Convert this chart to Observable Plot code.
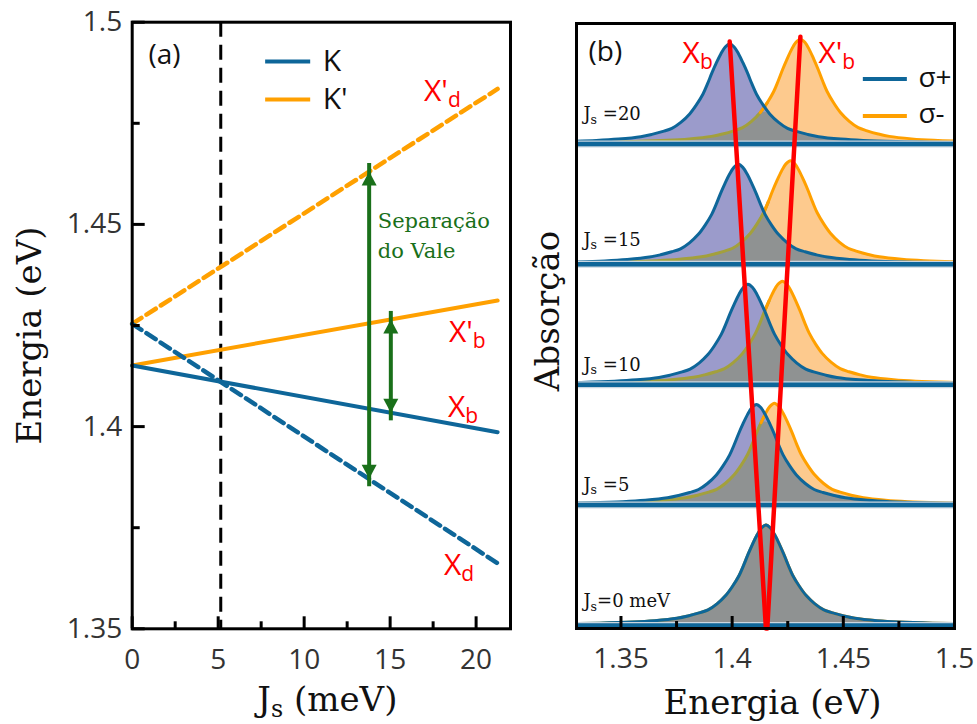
<!DOCTYPE html>
<html><head><meta charset="utf-8">
<script src="https://cdn.jsdelivr.net/npm/d3@7"></script>
<script src="https://cdn.jsdelivr.net/npm/@observablehq/plot@0.6"></script>
<style>
html,body{margin:0;padding:0;background:#fff;}
#wrap{position:relative;width:977px;height:724px;overflow:hidden;background:#fff;}
#wrap svg{position:absolute;top:0;}
</style></head><body><div id="wrap"></div>
<script>
// ---------- Panel (a) data ----------
const js = [0, 21.25];                 // J_s (meV) line ends
const xb  = [1.4151, 1.3986];          // K  solid  (X_b)
const xpb = [1.4151, 1.4312];          // K' solid  (X'_b)
const xd  = [1.4254, 1.3662];          // K  dashed (X_d)
const xpd = [1.4254, 1.4835];          // K' dashed (X'_d)
const jsCross = [5.15];
const arrowJs = [13.78, 15.04];
const arrowTop = [1.4631, 1.4265];
const arrowBottom = [1.3871, 1.4034];
const aTicksMajorX = [0, 5, 10, 15, 20];
const aTicksMinorX = [2.5, 7.5, 12.5, 17.5];
const aTicksMajorY = [1.35, 1.4, 1.45, 1.5];
const aTicksMinorY = [1.375, 1.425, 1.475];

// ---------- Panel (b) data ----------
const jsValues = [0, 5, 10, 15, 20];
const jsLabels = ["J_s=0 meV", "J_s =5", "J_s =10", "J_s =15", "J_s =20"];
const jsLabelY = [0.152, 1.120, 2.116, 3.154, 4.199];
const peakPlus  = [1.4152, 1.4109, 1.4071, 1.4028, 1.3989];   // sigma+ (X_b)
const peakMinus = [1.4152, 1.4190, 1.4226, 1.4262, 1.4307];   // sigma- (X'_b)
const heightPlus  = [0.835, 0.835, 0.835, 0.83, 0.83];
const heightMinus = [0.835, 0.845, 0.86, 0.86, 0.87];
// line shape read from the J_s=0 peak: offset from centre (eV) -> fraction of peak height
const shapeOffset = [0, 0.002, 0.004, 0.006, 0.008, 0.010, 0.012, 0.015, 0.018, 0.022, 0.026, 0.030, 0.035, 0.040, 0.050, 0.060, 0.075, 0.090, 0.105, 0.120];
const shapeValue  = [1, 0.97, 0.90, 0.81, 0.71, 0.60, 0.50, 0.39, 0.30, 0.215, 0.155, 0.125, 0.095, 0.072, 0.048, 0.034, 0.023, 0.017, 0.012, 0.009];
const bTicksMajorX = [1.35, 1.4, 1.45, 1.5];
const bTicksMinorX = [1.375, 1.425, 1.475];

// ---------- styles ----------
const blue = "#0e6699", orange = "#ffa000", green = "#1a701a", red = "#ff0000";
const purpleFill = "#9b9bcb", orangeFill = "#fdca8e", grayFill = "#8f9292", olive = "#a3a03c";
const serif = "DejaVu Serif, serif";
const sans = "Open Sans, sans-serif";
const H = 724;

// arrow-head symbols (tip at the anchor point)
const headUp = {draw(ctx) { ctx.moveTo(0, 0); ctx.lineTo(7.5, 14); ctx.lineTo(-7.5, 14); ctx.closePath(); }};
const headDown = {draw(ctx) { ctx.moveTo(0, 0); ctx.lineTo(7.5, -14); ctx.lineTo(-7.5, -14); ctx.closePath(); }};

// ================= Panel (a) =================
const aW = 520, aML = 131.7, aMR = 10, aMT = 21.7, aMB = 95.7;
const aPxE = (H - aMT - aMB) / (1.5 - 1.35);
const aPxJ = (aW - aML - aMR) / 22;
const pts = vals => js.map((j, i) => ({js: j, e: vals[i]}));
const arrowIdx = arrowJs.map((_, i) => i);

const plotA = Plot.plot({
  width: aW, height: H,
  marginLeft: aML, marginRight: aMR, marginTop: aMT, marginBottom: aMB,
  style: {fontFamily: sans, color: "#333", background: "transparent"},
  x: {domain: [0, 22], label: null},
  y: {domain: [1.35, 1.5], label: null},
  marks: [
    Plot.ruleX(jsCross, {x: d => d, stroke: "black", strokeWidth: 3, strokeDasharray: "15,8"}),
    Plot.line(pts(xpb), {x: "js", y: "e", stroke: orange, strokeWidth: 4}),
    Plot.line(pts(xb), {x: "js", y: "e", stroke: blue, strokeWidth: 4}),
    Plot.line(pts(xpd), {x: "js", y: "e", stroke: orange, strokeWidth: 4.5, strokeDasharray: "11,6"}),
    Plot.line(pts(xd), {x: "js", y: "e", stroke: blue, strokeWidth: 4.5, strokeDasharray: "11,6"}),
    // arrows
    Plot.ruleX(arrowIdx, {x: i => arrowJs[i], y1: i => arrowBottom[i], y2: i => arrowTop[i], stroke: green, strokeWidth: 4, insetTop: 8, insetBottom: 8}),
    Plot.dot(arrowIdx, {x: i => arrowJs[i], y: i => arrowTop[i], symbol: headUp, r: 8, fill: green, stroke: "none"}),
    Plot.dot(arrowIdx, {x: i => arrowJs[i], y: i => arrowBottom[i], symbol: headDown, r: 8, fill: green, stroke: "none"}),
    // annotations
    Plot.text(["Separação", "do Vale"], {x: [14.28, 14.28], y: [1.4490, 1.4416], textAnchor: "start", lineAnchor: "bottom", fill: green, fontFamily: serif, fontSize: 21}),
    Plot.text(["X'_d", "X'_b", "X_b", "X_d"], {x: [16.97, 18.42, 18.36, 18.13], y: [1.4806, 1.4208, 1.4023, 1.3632], textAnchor: "start", lineAnchor: "bottom", fill: red, fontSize: 30}),
    Plot.text(["(a)"], {x: [0.95], y: [1.4918], textAnchor: "start", lineAnchor: "middle", fill: "#111", fontSize: 28}),
    // legend
    Plot.ruleY([1.4903], {y: d => d, x1: 7.76, x2: 10.38, stroke: blue, strokeWidth: 4}),
    Plot.ruleY([1.4809], {y: d => d, x1: 7.76, x2: 10.38, stroke: orange, strokeWidth: 4}),
    Plot.text(["K", "K'"], {x: [11.08, 11.08], y: [1.4903, 1.4809], textAnchor: "start", lineAnchor: "middle", fill: "#111", fontSize: 30}),
    // axes
    Plot.axisX({ticks: aTicksMajorX, tickSize: 0, tickPadding: 20, fontSize: 28, label: null, tickFormat: d => String(d)}),
    Plot.axisY({ticks: aTicksMajorY, tickSize: 0, tickPadding: 10, fontSize: 28, label: null, tickFormat: d => String(d)}),
    Plot.ruleX(aTicksMajorX, {x: d => d, y1: 1.35, y2: 1.35 + 12 / aPxE, stroke: "black", strokeWidth: 3}),
    Plot.ruleX(aTicksMinorX, {x: d => d, y1: 1.35, y2: 1.35 + 7 / aPxE, stroke: "black", strokeWidth: 3}),
    Plot.ruleY(aTicksMajorY, {y: d => d, x1: 0, x2: 13 / aPxJ, stroke: "black", strokeWidth: 3}),
    Plot.ruleY(aTicksMinorY, {y: d => d, x1: 0, x2: 8 / aPxJ, stroke: "black", strokeWidth: 3}),
    // axis titles
    Plot.text(["J_s (meV)"], {frameAnchor: "bottom", dx: 6, dy: 71, lineAnchor: "middle", fill: "#111", fontFamily: serif, fontSize: 34}),
    Plot.text(["Energia (eV)"], {frameAnchor: "left", dx: -102, dy: 10, rotate: -90, textAnchor: "middle", lineAnchor: "middle", fill: "#111", fontFamily: serif, fontSize: 34}),
    Plot.frame({stroke: "black", strokeWidth: 3})
  ]
});

// ================= Panel (b) =================
const bW = 457, bML = 56, bMR = 23, bMT = 23, bMB = 96;
const bY0 = -0.025, bY1 = 5.0;
const bPxA = (H - bMT - bMB) / (bY1 - bY0);
const sym = [];
for (let k = shapeOffset.length - 1; k > 0; k--) sym.push({o: -shapeOffset[k], v: shapeValue[k]});
for (let k = 0; k < shapeOffset.length; k++) sym.push({o: shapeOffset[k], v: shapeValue[k]});

const plusPts = [], minusPts = [], lowerPts = [], olivePts = [], orangePts = [];
jsValues.forEach((j, i) => {
  const P = sym.map(s => ({E: peakPlus[i] + s.o, A: i + heightPlus[i] * s.v, base: i, row: i}));
  const M = sym.map(s => ({E: peakMinus[i] + s.o, A: i + heightMinus[i] * s.v, base: i, row: i}));
  plusPts.push(...P); minusPts.push(...M);
  const mid = (peakPlus[i] + peakMinus[i]) / 2;
  const left = M.filter(d => d.E < mid), right = P.filter(d => d.E >= mid);
  lowerPts.push(...left, ...right);
  let idx = M.findIndex(d => d.E >= mid);
  olivePts.push(...M.slice(0, idx + 1));
  orangePts.push(...M.slice(Math.max(0, idx - 1)));
});
const rows = jsValues.map((_, i) => i);
const redPlus = [{E: peakPlus[4], A: 4 + heightPlus[4] + 0.02}, {E: peakPlus[0], A: bY0}];
const redMinus = [{E: peakMinus[4], A: 4 + heightMinus[4] + 0.02}, {E: peakMinus[0] + 0.0006, A: bY0}];
const cv = "catmull-rom";

const plotB = Plot.plot({
  width: bW, height: H,
  marginLeft: bML, marginRight: bMR, marginTop: bMT, marginBottom: bMB,
  style: {fontFamily: sans, color: "#333", background: "transparent"},
  x: {domain: [1.33, 1.5], label: null},
  y: {domain: [bY0, bY1], axis: null, label: null},
  marks: [
    Plot.areaY(minusPts, {x: "E", y1: "base", y2: "A", z: "row", fill: orangeFill, curve: cv, clip: true}),
    Plot.areaY(plusPts, {x: "E", y1: "base", y2: "A", z: "row", fill: purpleFill, curve: cv, clip: true}),
    Plot.areaY(lowerPts, {x: "E", y1: "base", y2: "A", z: "row", fill: grayFill, curve: cv, clip: true}),
    Plot.line(olivePts, {x: "E", y: "A", z: "row", stroke: olive, strokeWidth: 3, curve: cv, clip: true}),
    Plot.line(orangePts, {x: "E", y: "A", z: "row", stroke: orange, strokeWidth: 3, curve: cv, clip: true}),
    Plot.line(plusPts, {x: "E", y: "A", z: "row", stroke: blue, strokeWidth: 3, curve: cv, clip: true}),
    Plot.ruleY(rows, {y: d => d, stroke: "#c9d6e0", strokeWidth: 7}),
    Plot.ruleY(rows, {y: d => d, stroke: blue, strokeWidth: 4.5}),
    Plot.line(redPlus, {x: "E", y: "A", stroke: red, strokeWidth: 4.5}),
    Plot.line(redMinus, {x: "E", y: "A", stroke: red, strokeWidth: 4.5}),
    Plot.text(jsLabels, {x: jsLabels.map(() => 1.3331), y: jsLabelY, textAnchor: "start", lineAnchor: "bottom", fill: "#111", fontFamily: serif, fontSize: 18}),
    Plot.text(["X_b", "X'_b"], {x: [1.3777, 1.4388], y: [4.672, 4.672], textAnchor: "start", lineAnchor: "bottom", fill: red, fontSize: 30}),
    Plot.text(["(b)"], {x: [1.3354], y: [4.763], textAnchor: "start", lineAnchor: "middle", fill: "#111", fontSize: 28}),
    // legend
    Plot.ruleY([4.539], {y: d => d, x1: 1.4590, x2: 1.4788, stroke: blue, strokeWidth: 4}),
    Plot.ruleY([4.232], {y: d => d, x1: 1.4590, x2: 1.4788, stroke: orange, strokeWidth: 4}),
    Plot.text(["σ+", "σ-"], {x: [1.4838, 1.4838], y: [4.548, 4.249], textAnchor: "start", lineAnchor: "middle", fill: "#111", fontSize: 28}),
    // axes
    Plot.axisX({ticks: bTicksMajorX, tickSize: 0, tickPadding: 20, fontSize: 28, label: null, tickFormat: d => String(d)}),
    Plot.ruleX(bTicksMajorX, {x: d => d, y1: bY0, y2: bY0 + 12 / bPxA, stroke: "black", strokeWidth: 3}),
    Plot.ruleX(bTicksMinorX, {x: d => d, y1: bY0, y2: bY0 + 7 / bPxA, stroke: "black", strokeWidth: 3}),
    Plot.text(["Energia (eV)"], {frameAnchor: "bottom", dx: 7, dy: 75, lineAnchor: "middle", fill: "#111", fontFamily: serif, fontSize: 34}),
    Plot.text(["Absorção"], {frameAnchor: "left", dx: -28, dy: -15, rotate: -90, textAnchor: "middle", lineAnchor: "middle", fill: "#111", fontFamily: serif, fontSize: 34}),
    Plot.frame({stroke: "black", strokeWidth: 3})
  ]
});

const wrap = document.getElementById("wrap");
plotA.style.left = "0px";
plotB.style.left = "520px";
wrap.append(plotA, plotB);

// subscripts: "A_b rest" -> A<sub>b</sub> rest
const NS = "http://www.w3.org/2000/svg";
function subscripts(svg) {
  svg.querySelectorAll("text").forEach(t => {
    const spans = t.querySelectorAll("tspan");
    const targets = spans.length ? [...spans] : [t];
    targets.forEach(el => {
      const s = el.textContent;
      const m = s.match(/^(.*?)_(\w)(.*)$/);
      if (!m) return;
      const fs = parseFloat(getComputedStyle(el).fontSize) || 20;
      el.textContent = "";
      const a = document.createElementNS(NS, "tspan"); a.textContent = m[1];
      const b = document.createElementNS(NS, "tspan"); b.textContent = m[2];
      b.setAttribute("font-size", (fs * 0.7).toFixed(1)); b.setAttribute("dy", (fs * 0.2).toFixed(1));
      el.append(a, b);
      if (m[3]) {
        const c = document.createElementNS(NS, "tspan"); c.textContent = m[3];
        c.setAttribute("dy", (-fs * 0.2).toFixed(1));
        el.append(c);
      }
    });
  });
}
subscripts(plotA);
subscripts(plotB);
</script>
</body></html>
